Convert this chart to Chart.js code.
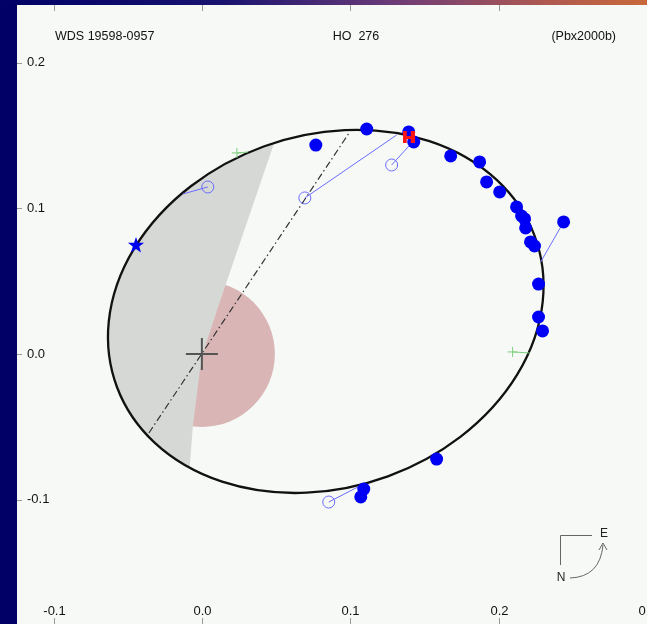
<!DOCTYPE html>
<html>
<head>
<meta charset="utf-8">
<script src="https://cdn.jsdelivr.net/npm/chart.js@4.4.1/dist/chart.umd.min.js"></script>
<style>
  html, body { margin: 0; padding: 0; width: 647px; height: 624px; overflow: hidden; background: #000066; }
  #band { position: absolute; left: 0; top: 0; width: 647px; height: 5px;
          background: linear-gradient(to right, #000066 0%, #1a1470 35%, #6a3a78 60%, #b05a50 85%, #c8683a 100%); }
  #panel { position: absolute; left: 17px; top: 5px; width: 630px; height: 619px; background: #f6f9f6; }
  canvas { display: block; }
</style>
</head>
<body>
<div id="band"></div>
<div id="panel"><canvas id="orbit" width="630" height="619"></canvas></div>
<script>
const obsX = [0.1111, 0.0768, 0.1394, 0.1428, 0.1677, 0.1872, 0.1919, 0.2007, 0.2121, 0.2155, 0.2175,
              0.2182, 0.2215, 0.2242, 0.2438, 0.2269, 0.2269, 0.2296, 0.1582, 0.1091, 0.1071];
const obsY = [0.1544, 0.1434, 0.1524, 0.1455, 0.1359, 0.1318, 0.1181, 0.1112, 0.1009, 0.0947, 0.0927,
              0.0865, 0.0769, 0.0741, 0.0906, 0.0480, 0.0254, 0.0158, -0.0721, -0.0927, -0.0981];

// open circles and where they land on the orbit
const openX = [0.0040, 0.0694, 0.1279, 0.0855];
const openY = [0.1146, 0.1071, 0.1297, -0.1016];
const openFitX = [-0.0128, 0.1313, 0.1414, 0.1051];
const openFitY = [0.1098, 0.1503, 0.1448, -0.0913];

// the one filled point with a visible residual line
const resX = [0.2438, 0.2283];
const resY = [0.0906, 0.0631];

const starX = [-0.0444], starY = [0.0748];
const redX = [0.1394], redY = [0.1489];

// node marks and their short links to the orbit
const nodeX = [0.0236, 0.2094], nodeY = [0.1380, 0.0014];
const nodeFitX = [0.0310, 0.2209], nodeFitY = [0.1386, 0.0007];

// apsidal line (dash-dot)
const apseX = [-0.0357, 0.0997], apseY = [-0.0542, 0.1524];

// apparent orbit: centre x, centre y, semi-axes, tilt (deg)
const orbit = [0.0835, 0.0292, 0.1500, 0.1207, 20.3];

// shaded sector edge
const shadeX = [0.0593, 0.0478, 0.0155, 0.0020, -0.0013, -0.0061, -0.0081, -0.0108];
const shadeY = [0.1743, 0.1421, 0.0460, 0.0048, -0.0110, -0.0501, -0.0762, -0.1139];
const pinkR = 0.0492;

const xTicks = [-0.1, 0.0, 0.1, 0.2, 0.3];
const yTicks = [-0.1, 0.0, 0.1, 0.2];

const FONT = '"Liberation Sans", Arial, Helvetica, sans-serif';
const pts = (xs, ys) => xs.map((x, i) => ({x: x, y: ys[i]}));
const fmt = v => (Math.abs(v) < 1e-9 ? 0 : v).toFixed(1);

// filled star symbol
const star = document.createElement('canvas');
star.width = 20; star.height = 20;
const sc = star.getContext('2d');
sc.fillStyle = '#0000f0';
sc.beginPath();
for (let i = 0; i < 10; i++) {
  const r = i % 2 ? 3.4 : 8.5;
  const ang = -Math.PI / 2 + i * Math.PI / 5;
  sc.lineTo(10 + r * Math.cos(ang), 10.5 + r * Math.sin(ang));
}
sc.closePath();
sc.fill();

// red H-shaped marker
const hMark = document.createElement('canvas');
hMark.width = 12; hMark.height = 12;
const hc = hMark.getContext('2d');
hc.fillStyle = '#ff1414';
hc.fillRect(0, 0, 4, 12);
hc.fillRect(8, 0, 4, 12);
hc.fillRect(0, 5, 12, 3);

function segment(x0, y0, x1, y1, color) {
  return {
    data: [{x: x0, y: y0}, {x: x1, y: y1}],
    showLine: true, pointRadius: 0, borderColor: color, borderWidth: 1
  };
}

const datasets = [];
datasets.push({ data: pts(redX, redY), pointStyle: hMark, pointRadius: 6 });
datasets.push({ data: pts(obsX, obsY), pointRadius: 6.5, backgroundColor: '#0000f5', borderWidth: 0 });
datasets.push({ data: pts(starX, starY), pointStyle: star, pointRadius: 9 });
datasets.push({ data: pts(openX, openY), pointRadius: 6, backgroundColor: 'rgba(0,0,0,0)', borderColor: '#6c6cff', borderWidth: 1 });
openX.forEach((x, i) => datasets.push(segment(x, openY[i], openFitX[i], openFitY[i], '#6c6cff')));
datasets.push(segment(resX[0], resY[0], resX[1], resY[1], '#6c6cff'));
datasets.push({ data: pts(nodeX, nodeY), pointStyle: 'cross', pointRadius: 5, borderColor: '#7fcf7f', borderWidth: 1 });
nodeX.forEach((x, i) => datasets.push(segment(x, nodeY[i], nodeFitX[i], nodeFitY[i], '#7fcf7f')));
datasets.push({ data: [{x: 0, y: 0}], pointStyle: 'cross', pointRadius: 16, borderColor: '#555555', borderWidth: 2 });
datasets.push({
  data: pts(apseX, apseY), showLine: true, pointRadius: 0,
  borderColor: '#333333', borderWidth: 1.2, borderDash: [7, 3, 1.5, 3]
});

function orbitPath(ctx, xs, ys) {
  const kx = xs.getPixelForValue(1) - xs.getPixelForValue(0);
  const ky = ys.getPixelForValue(1) - ys.getPixelForValue(0);
  ctx.save();
  ctx.translate(xs.getPixelForValue(orbit[0]), ys.getPixelForValue(orbit[1]));
  ctx.scale(kx, ky);
  ctx.rotate(orbit[4] * Math.PI / 180);
  ctx.beginPath();
  ctx.ellipse(0, 0, orbit[2], orbit[3], 0, 0, 2 * Math.PI);
  ctx.restore();
}

function noPad(s) {
  s.paddingLeft = 0; s.paddingRight = 0; s.paddingTop = 0; s.paddingBottom = 0;
}

const decor = {
  id: 'decor',
  beforeDatasetsDraw(chart) {
    const ctx = chart.ctx, xs = chart.scales.x, ys = chart.scales.y;
    // pink disc round the primary
    ctx.save();
    ctx.fillStyle = '#d9b5b5';
    ctx.beginPath();
    ctx.arc(xs.getPixelForValue(0), ys.getPixelForValue(0),
            xs.getPixelForValue(pinkR) - xs.getPixelForValue(0), 0, 2 * Math.PI);
    ctx.fill();
    ctx.restore();
    // grey sector, clipped to the orbit
    ctx.save();
    orbitPath(ctx, xs, ys);
    ctx.clip();
    ctx.fillStyle = '#d6d8d6';
    ctx.beginPath();
    shadeX.forEach((x, i) => ctx.lineTo(xs.getPixelForValue(x), ys.getPixelForValue(shadeY[i])));
    ctx.lineTo(xs.left - 5, ys.getPixelForValue(shadeY[shadeY.length - 1]));
    ctx.lineTo(xs.left - 5, ys.getPixelForValue(shadeY[0]));
    ctx.closePath();
    ctx.fill();
    ctx.restore();
    // orbit
    ctx.save();
    orbitPath(ctx, xs, ys);
    ctx.strokeStyle = '#111111';
    ctx.lineWidth = 2.3;
    ctx.stroke();
    ctx.restore();
  },
  afterDraw(chart) {
    const ctx = chart.ctx, xs = chart.scales.x, ys = chart.scales.y;
    const a = chart.chartArea;
    ctx.save();
    ctx.strokeStyle = '#999999';
    ctx.lineWidth = 1;
    ctx.fillStyle = '#111111';
    ctx.font = '13px ' + FONT;
    ctx.textAlign = 'center';
    ctx.textBaseline = 'middle';
    xTicks.forEach(v => {
      const px = Math.round(xs.getPixelForValue(v)) + 0.5;
      ctx.beginPath();
      ctx.moveTo(px, a.top); ctx.lineTo(px, a.top + 6);
      ctx.moveTo(px, a.bottom); ctx.lineTo(px, a.bottom - 6);
      ctx.stroke();
      ctx.fillText(fmt(v), px, a.bottom - 13);
    });
    yTicks.forEach(v => {
      const py = Math.round(ys.getPixelForValue(v)) + 0.5;
      ctx.beginPath();
      ctx.moveTo(a.left, py); ctx.lineTo(a.left + 5, py);
      ctx.stroke();
    });
    // titles
    ctx.font = '12.5px ' + FONT;
    ctx.textAlign = 'left';
    ctx.fillText('WDS 19598-0957', 38, 32);
    ctx.textAlign = 'center';
    ctx.fillText('HO  276', 339, 32);
    ctx.textAlign = 'right';
    ctx.fillText('(Pbx2000b)', 599, 32);
    // compass
    ctx.strokeStyle = '#666666';
    ctx.beginPath();
    ctx.moveTo(575, 530.5); ctx.lineTo(543.5, 530.5); ctx.lineTo(543.5, 560);
    ctx.stroke();
    ctx.beginPath();
    ctx.moveTo(553, 573);
    ctx.quadraticCurveTo(583, 572, 586, 540);
    ctx.stroke();
    ctx.beginPath();
    ctx.moveTo(582, 545); ctx.lineTo(586, 538); ctx.lineTo(590, 545);
    ctx.stroke();
    ctx.fillStyle = '#222222';
    ctx.font = '12px ' + FONT;
    ctx.textAlign = 'center';
    ctx.fillText('E', 587, 529);
    ctx.fillText('N', 544, 573);
    ctx.restore();
  }
};

new Chart(document.getElementById('orbit'), {
  type: 'scatter',
  data: { datasets: datasets },
  options: {
    responsive: false,
    animation: false,
    devicePixelRatio: 1,
    layout: { padding: 0, autoPadding: false },
    plugins: { legend: { display: false }, tooltip: { enabled: false } },
    scales: {
      x: {
        type: 'linear', position: 'bottom', min: -0.1246, max: 0.3,
        grid: { display: false, drawTicks: false }, border: { display: false },
        ticks: { display: false },
        afterBuildTicks: s => { s.ticks = xTicks.map(v => ({value: v})); },
        afterFit: s => { s.height = 0; noPad(s); }
      },
      y: {
        type: 'linear', position: 'left', min: -0.1853, max: 0.2395,
        grid: { display: false, drawTicks: false }, border: { display: false },
        ticks: { mirror: true, padding: 10, color: '#111111',
                 font: { family: FONT, size: 13 }, callback: v => fmt(v) },
        afterBuildTicks: s => { s.ticks = yTicks.map(v => ({value: v})); },
        afterFit: s => { s.width = 0; noPad(s); }
      }
    }
  },
  plugins: [decor]
});
</script>
</body>
</html>
